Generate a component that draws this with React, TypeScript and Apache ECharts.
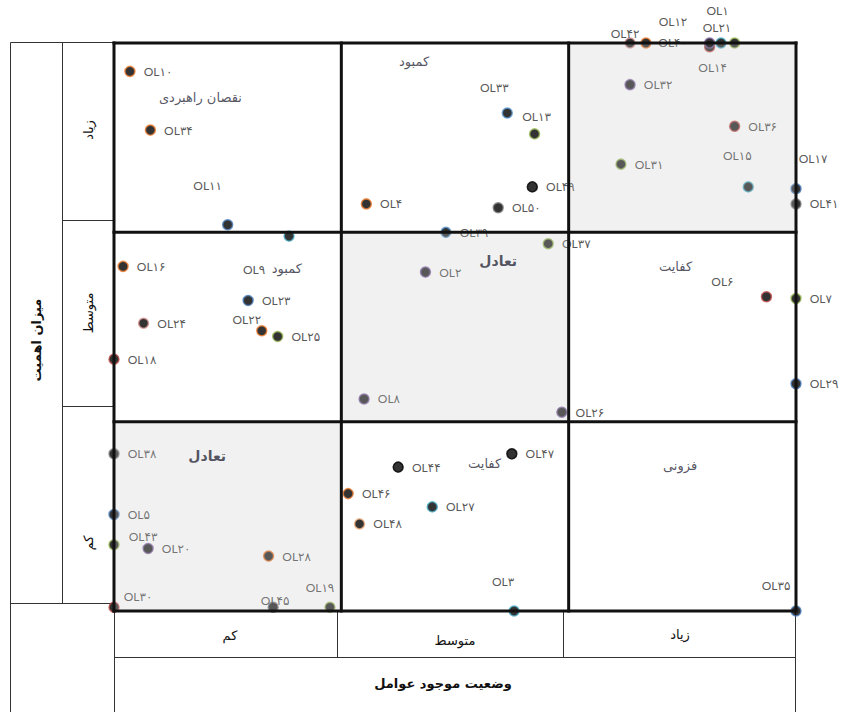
import React, { useEffect, useRef } from 'react';
import * as echarts from 'echarts';

// ---------- data ----------
const pointLabels = ['OL۱','OL۲','OL۳','OL۴','OL۵','OL۶','OL۷','OL۸','OL۹','OL۱۰','OL۱۱','OL۱۲','OL۱۳','OL۱۴','OL۱۵','OL۱۶','OL۱۷','OL۱۸','OL۱۹','OL۲۰','OL۲۱','OL۲۲','OL۲۳','OL۲۴','OL۲۵','OL۲۶','OL۲۷','OL۲۸','OL۲۹','OL۳۰','OL۳۱','OL۳۲','OL۳۳','OL۳۴','OL۳۵','OL۳۶','OL۳۷','OL۳۸','OL۳۹','OL۴۰','OL۴۱','OL۴۲','OL۴۳','OL۴۴','OL۴۵','OL۴۶','OL۴۷','OL۴۸','OL۴۹','OL۵۰'];
// وضعیت موجود عوامل (x)
const statusValues = [2.73,1.37,1.76,1.11,0.00,2.87,3.00,1.10,0.77,0.07,0.50,2.34,1.85,2.62,2.79,0.04,3.00,0.00,0.95,0.15,2.67,0.65,0.59,0.13,0.72,1.97,1.40,0.68,3.00,0.00,2.23,2.27,1.73,0.16,3.00,2.73,1.91,0.00,1.46,2.62,3.00,2.27,0.00,1.25,0.70,1.03,1.75,1.08,1.84,1.69];
// میزان اهمیت (y)
const importanceValues = [3.00,1.79,0.00,2.15,0.51,1.66,1.65,1.12,1.98,2.85,2.04,3.00,2.52,2.98,2.24,1.82,2.23,1.33,0.02,0.33,3.00,1.48,1.64,1.52,1.45,1.05,0.55,0.29,1.20,0.02,2.36,2.78,2.63,2.54,0.00,2.56,1.94,0.83,2.00,3.00,2.15,3.00,0.35,0.76,0.02,0.62,0.83,0.46,2.24,2.13];

const xLevels = ['کم', 'متوسط', 'زیاد'];
const yLevels = ['کم', 'متوسط', 'زیاد'];
const xTitle = 'وضعیت موجود عوامل';
const yTitle = 'میزان اهمیت';

const cellTitles = ['نقصان راهبردی', 'کمبود', 'کمبود', 'تعادل', 'کفایت', 'تعادل', 'کفایت', 'فزونی'];
const cellTitleX = [0.38, 1.32, 0.76, 1.69, 2.47, 0.41, 1.63, 2.49];
const cellTitleY = [2.71, 2.90, 1.81, 1.85, 1.82, 0.82, 0.78, 0.77];
const cellTitleBold = [false, false, false, true, false, true, false, false];

const shadedCells = [[0, 0], [1, 1], [2, 2]];
const gridLevels = [0, 1, 2, 3];

// ---------- styles ----------
const C = {
  orange: '#ed7d31', blue: '#4f81bd', lblue: '#5b9bd5', green: '#9bbb59', red: '#c0504d',
  pink: '#d99694', purple: '#8064a2', teal: '#4bacc6', gray: '#7f7f7f', black: '#000000', peach: '#f4b183',
};
const borderColors = [
  C.green, C.purple, C.teal, C.orange, C.blue, C.red, C.green, C.purple, C.teal, C.orange,
  C.blue, C.orange, C.green, C.red, C.teal, C.orange, C.blue, C.red, C.green, C.purple,
  C.teal, C.orange, C.blue, C.pink, C.green, C.purple, C.teal, C.orange, C.blue, C.red,
  C.green, C.purple, C.lblue, C.orange, C.blue, C.red, C.green, C.gray, C.lblue, C.purple,
  C.gray, C.pink, C.green, C.black, C.gray, C.orange, C.black, C.peach, C.black, C.gray,
];
const labelOffsets: Record<string, number[]> = {
  'OL۱': [-17, -33], 'OL۳': [-11, -30], 'OL۶': [-44, -15], 'OL۹': [-35, 33],
  'OL۱۱': [-20, -39], 'OL۱۲': [27, -22], 'OL۱۳': [2, -17], 'OL۱۴': [3, 21],
  'OL۱۵': [-11, -31], 'OL۱۷': [17, -30], 'OL۱۹': [-10, -20], 'OL۲۱': [-4, -16],
  'OL۲۲': [-15, -11], 'OL۳۰': [24, -11], 'OL۳۳': [-13, -26], 'OL۳۵': [-20, -26],
  'OL۴۰': [-37, -1], 'OL۴۲': [-5, -10], 'OL۴۳': [29, -8], 'OL۴۵': [2, -7],
};
const FA = 'DejaVu Sans';
const LAT = 'Lato, DejaVu Sans, sans-serif';

export default function App() {
  const ref = useRef<HTMLDivElement>(null);
  useEffect(() => {
    document.body.style.margin = '0';
    const chart = echarts.init(ref.current!, null, { renderer: 'svg' });
    const thin = { stroke: '#333', lineWidth: 1 };
    const L = (x1: number, y1: number, x2: number, y2: number) => ({ type: 'line', silent: true, shape: { x1, y1, x2, y2 }, style: thin });
    const T = (x: number, y: number, text: string, bold = false, rot = 0) => ({
      type: 'text', x, y, rotation: rot, silent: true,
      style: { text, align: 'center', verticalAlign: 'middle', font: `${bold ? 'bold ' : ''}13px ${FA}`, fill: '#111' },
    });
    const yRowCenters = [543, 313, 130];
    const xColCenters = [230, 455, 680];
    const xColY = [635, 640, 634];
    const graphic: any[] = [
      L(10.5, 42.5, 10.5, 712), L(10.5, 42.5, 114.5, 42.5), L(62.5, 42.5, 62.5, 603.5),
      L(62.5, 220.5, 114.5, 220.5), L(62.5, 406.5, 114.5, 406.5), L(10.5, 603.5, 114.5, 603.5),
      L(114.5, 42.5, 114.5, 712), L(795.5, 611, 795.5, 712), L(114.5, 657.5, 795.5, 657.5),
      L(337.5, 611, 337.5, 657.5), L(563.5, 611, 563.5, 657.5),
      T(36, 340, yTitle, true, Math.PI / 2),
      ...yLevels.map((t, i) => T(88, yRowCenters[i], t, false, Math.PI / 2)),
      ...xLevels.map((t, i) => T(xColCenters[i], xColY[i], t)),
      T(443, 683, xTitle, true),
    ];

    chart.setOption({
      animation: false,
      grid: { left: 114, top: 43, width: 682, height: 568 },
      xAxis: { type: 'value', min: 0, max: 3, interval: 1, show: false },
      yAxis: { type: 'value', min: 0, max: 3, interval: 1, show: false },
      graphic,
      series: [
        {
          type: 'scatter', z: 2, clip: false, symbolSize: 10,
          label: { show: true, position: 'right', distance: 8, formatter: '{b}', color: '#2b2b2b', fontSize: 12, fontFamily: LAT },
          data: pointLabels.map((n, i) => ({
            name: n,
            value: [statusValues[i], importanceValues[i]],
            itemStyle: { color: '#000', borderColor: borderColors[i], borderWidth: 1.5 },
            label: labelOffsets[n] ? { position: 'inside', offset: labelOffsets[n] } : undefined,
          })),
        },
        {
          type: 'custom', z: 3, silent: true, data: shadedCells,
          renderItem: (_p: any, api: any) => {
            const c = api.value(0), r = api.value(1);
            const a = api.coord([c, r + 1]);
            const b = api.coord([c + 1, r]);
            return { type: 'rect', shape: { x: a[0], y: a[1], width: b[0] - a[0], height: b[1] - a[1] }, style: { fill: 'rgba(200,200,200,0.25)' } };
          },
        },
        {
          type: 'custom', z: 4, silent: true, data: gridLevels.map((v) => [v, v]),
          renderItem: (_p: any, api: any) => {
            const v = api.value(0);
            const v0 = api.coord([v, 0]), v1 = api.coord([v, 3]);
            const h0 = api.coord([0, v]), h1 = api.coord([3, v]);
            const st = { stroke: '#111', lineWidth: 3, lineCap: 'square' };
            return {
              type: 'group', children: [
                { type: 'line', shape: { x1: v0[0], y1: v0[1], x2: v1[0], y2: v1[1] }, style: st },
                { type: 'line', shape: { x1: h0[0], y1: h0[1], x2: h1[0], y2: h1[1] }, style: st },
              ],
            };
          },
        },
        {
          type: 'scatter', z: 5, silent: true, symbolSize: 0,
          label: { show: true, position: 'inside', formatter: '{b}', color: '#2a2a3a', fontSize: 13, fontFamily: FA },
          data: cellTitles.map((t, i) => ({
            name: t, value: [cellTitleX[i], cellTitleY[i]],
            label: cellTitleBold[i] ? { fontWeight: 'bold', fontSize: 14 } : undefined,
          })),
        },
      ],
    });
    return () => chart.dispose();
  }, []);
  return <div ref={ref} style={{ width: 844, height: 712 }} />;
}
